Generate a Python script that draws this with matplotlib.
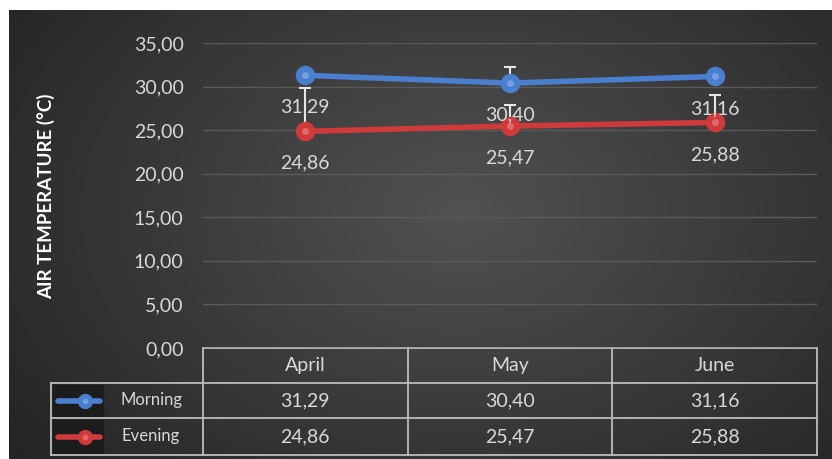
import numpy as np
import matplotlib.pyplot as plt
from matplotlib.patches import Rectangle

months = ["April", "May", "June"]
morning = [31.29, 30.40, 31.16]
evening = [24.86, 25.47, 25.88]
morning_err = [0.0, 1.86, 0.0]
evening_err = [5.0, 2.43, 3.17]
yticks = [0, 5, 10, 15, 20, 25, 30, 35]

plt.rcParams['font.family'] = ['Lato', 'DejaVu Sans']


def fmt(v):
    return f"{v:.2f}".replace(".", ",")


W, H = 832, 459
fig = plt.figure(figsize=(W / 100, H / 100), dpi=100)
fig.patch.set_facecolor("white")

# pixel-space background axes
bg = fig.add_axes([0, 0, 1, 1])
bg.set_xlim(0, W)
bg.set_ylim(H, 0)
bg.axis("off")

# radial-ish gradient for the dark panel
yy, xx = np.mgrid[0:200, 0:400]
cx, cy = 0.55, 0.45
d = np.sqrt(((xx / 399) - cx) ** 2 + ((yy / 199) - cy) ** 2 * 0.6)
shade = np.clip(0.32 - 0.26 * d, 0.14, 0.32)
img = np.dstack([shade, shade, shade])
bg.imshow(img, extent=[9, W, H, 10], aspect="auto", zorder=0, interpolation="bilinear")

fg = "#d9d9d9"
blue = "#4a7fcf"
red = "#cf3a3b"

# data axes
left, right, top, bottom = 203, 817, 43, 348
ax = fig.add_axes([left / W, (H - bottom) / H, (right - left) / W, (bottom - top) / H])
ax.set_facecolor("none")
ax.set_xlim(-0.5, len(months) - 0.5)
ax.set_ylim(0, 35)
for s in ax.spines.values():
    s.set_visible(False)
ax.set_xticks([])
ax.set_yticks(yticks)
ax.set_yticklabels([fmt(v) for v in yticks], color=fg, fontsize=14)
ax.tick_params(axis="y", length=0, pad=14)
ax.grid(axis="y", color="#5a5a5a", linewidth=1)
ax.set_axisbelow(True)
ax.set_ylabel("AIR TEMPERATURE (°C)", color="white", fontsize=13.5, fontweight="bold")
ax.yaxis.set_label_coords((55 - left) / (right - left), (bottom - 196) / (bottom - top))

x = np.arange(len(months))
ax.errorbar(x, evening, yerr=[[0] * 3, evening_err], fmt="none", ecolor="#e6e6e6",
            elinewidth=1.5, capsize=4, capthick=1.5, zorder=2)
ax.errorbar(x, morning, yerr=[[0] * 3, morning_err], fmt="none", ecolor="#e6e6e6",
            elinewidth=1.5, capsize=4, capthick=1.5, zorder=2)

for vals, col, hi in [(morning, blue, "#8fb6ee"), (evening, red, "#f08a8a")]:
    ax.plot(x, vals, color=col, linewidth=4, zorder=3, solid_capstyle="round")
    ax.plot(x, vals, "o", color=col, markersize=13, markeredgecolor=col, zorder=4)
    ax.plot(x, vals, "o", color=hi, markersize=5, markeredgewidth=0, zorder=5,
            alpha=0.6)
    for xi, v in zip(x, vals):
        ax.annotate(fmt(v), (xi, v), xytext=(0, -23),
                    textcoords="offset points", ha="center", va="center",
                    color=fg, fontsize=14, zorder=6)

# data table below the plot
lc = "#bdbdbd"
lw = 1.3
tsize = 14
col_w = (right - left) / len(months)
rows = [348, 383, 418, 455]
leg_left = 51
bg.plot([left, right], [rows[0], rows[0]], color=lc, lw=lw)
for r in rows[1:]:
    bg.plot([leg_left, right], [r, r], color=lc, lw=lw)
for i in range(len(months) + 1):
    xe = left + i * col_w
    bg.plot([xe, xe], [rows[0], rows[3]], color=lc, lw=lw)
bg.plot([leg_left, leg_left], [rows[1], rows[3]], color=lc, lw=lw)
for i, m in enumerate(months):
    xc = left + (i + 0.5) * col_w
    bg.text(xc, (rows[0] + rows[1]) / 2, m, ha="center", va="center", color=fg, fontsize=tsize)
    bg.text(xc, (rows[1] + rows[2]) / 2, fmt(morning[i]),
            ha="center", va="center", color=fg, fontsize=tsize)
    bg.text(xc, (rows[2] + rows[3]) / 2, fmt(evening[i]),
            ha="center", va="center", color=fg, fontsize=tsize)

# legend keys inside the table
for r0, r1, name, col, hi in [(rows[1], rows[2], "Morning", blue, "#8fb6ee"),
                              (rows[2], rows[3], "Evening", red, "#f08a8a")]:
    yc = (r0 + r1) / 2
    bg.add_patch(Rectangle((53, r0 + 2), 50, r1 - r0 - 4, color="#1c1c1c", zorder=1))
    bg.plot([58, 100], [yc, yc], color=col, lw=4, zorder=2, solid_capstyle="round")
    bg.plot([85], [yc], "o", color=col, markersize=10, zorder=3)
    bg.plot([85], [yc], "o", color=hi, markersize=4, markeredgewidth=0, zorder=4, alpha=0.6)
    bg.text(151, yc, name, ha="center", va="center", color=fg, fontsize=12)

fig.savefig("out.png", dpi=100, facecolor=fig.get_facecolor())
